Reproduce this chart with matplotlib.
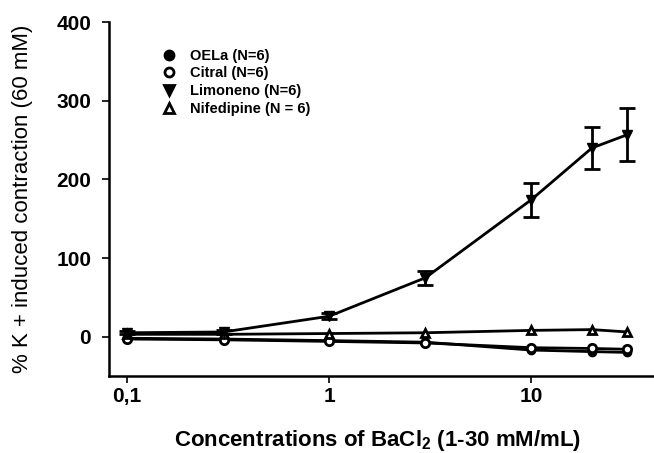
import numpy as np
import matplotlib.pyplot as plt
from matplotlib.lines import Line2D

plt.rcParams['font.family'] = ['Liberation Sans', 'DejaVu Sans']
plt.rcParams['mathtext.fontset'] = 'custom'
plt.rcParams['mathtext.rm'] = 'Liberation Sans'
plt.rcParams['mathtext.bf'] = 'Liberation Sans:bold'

# concentrations of BaCl2
conc = [0.1, 0.3, 1, 3, 10, 20, 30]

oela = [-2, -3, -5, -7, -17, -19, -20]
citral = [-3, -4, -6, -8, -14, -15, -16]
limoneno = [5, 6, 26, 75, 174, 240, 257]
limoneno_err = [2, 3, 4, 9, 22, 27, 34]
nifedipine = [3, 3, 4, 5, 8, 9, 6]

labels = ['OELa (N=6)', 'Citral (N=6)', 'Limoneno (N=6)', 'Nifedipine (N = 6)']
markers = ['o', 'o', 'v', '^']
fills = ['black', 'white', 'black', 'white']

fig = plt.figure(figsize=(6.54, 4.53), dpi=100)
ax = fig.add_axes([0.167, 0.170, 0.833, 0.781])

lw = 2.0
ax.plot(conc, oela, color='black', lw=lw, marker='o', ms=6,
        mfc='black', mec='black')
ax.plot(conc, citral, color='black', lw=lw, marker='o', ms=6,
        mfc='white', mec='black', mew=2)
ax.errorbar(conc, limoneno, yerr=limoneno_err, color='black', lw=lw,
            marker='v', ms=7, mfc='black', mec='black', capsize=6,
            elinewidth=2, capthick=2)
ax.plot(conc, nifedipine, color='black', lw=lw, marker='^', ms=6,
        mfc='white', mec='black', mew=2)

ax.set_xscale('log')
ax.set_xlim(0.0815, 40.6)
ax.set_ylim(-50, 400)
ax.set_xticks([0.1, 1, 10])
ax.set_xticklabels(['0,1', '1', '10'])
ax.xaxis.set_minor_locator(plt.NullLocator())
ax.set_yticks([0, 100, 200, 300, 400])

for side in ['top', 'right']:
    ax.spines[side].set_visible(False)
for side in ['left', 'bottom']:
    ax.spines[side].set_linewidth(1.8)

ax.tick_params(axis='both', direction='out', length=5, width=1.2,
               labelsize=15)
ax.tick_params(axis='x', pad=3)
ax.tick_params(axis='y', pad=8)
for lab in ax.get_xticklabels() + ax.get_yticklabels():
    lab.set_fontweight('bold')

ax.set_xlabel(r'Concentrations of BaCl$_\mathbf{2}$ (1-30 mM/mL)',
              fontsize=16, fontweight='bold')
ax.xaxis.set_label_coords(0.492, -0.147)
ax.set_ylabel('% K + induced contraction (60 mM)', fontsize=16)
ax.yaxis.set_label_coords(-0.14, 0.5)

handles = [Line2D([], [], ls='none', marker=m, ms=6.5, mfc=f, mec='black', mew=2)
           for m, f in zip(markers, fills)]
ax.legend(handles=handles, labels=labels, loc='upper left',
          bbox_to_anchor=(0.07, 0.962), frameon=False,
          prop={'weight': 'bold', 'size': 10.5},
          handletextpad=0.8, labelspacing=0.25, handlelength=1.2)

fig.savefig('out.png', dpi=100)
